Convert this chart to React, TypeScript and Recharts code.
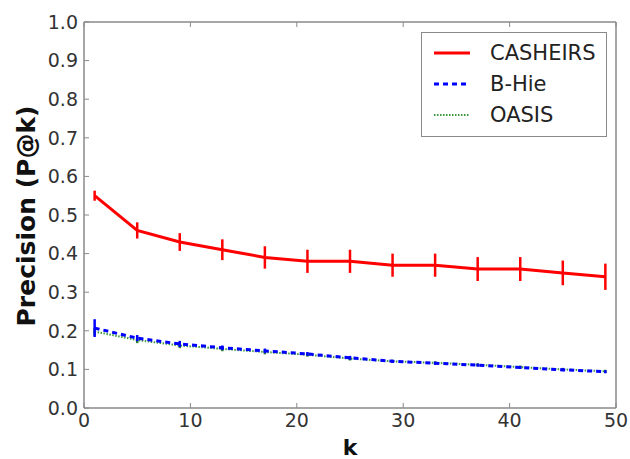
import React from 'react';
import { LineChart, Line, XAxis, YAxis, ErrorBar, Legend } from 'recharts';

const kValues = [1, 5, 9, 13, 17, 21, 25, 29, 33, 37, 41, 45, 49];
const casheirs = [0.55, 0.46, 0.43, 0.41, 0.39, 0.38, 0.38, 0.37, 0.37, 0.36, 0.36, 0.35, 0.34];
const casheirsErr = [0.013, 0.021, 0.023, 0.027, 0.029, 0.03, 0.03, 0.03, 0.03, 0.031, 0.031, 0.032, 0.034];
const bhie = [0.207, 0.181, 0.166, 0.156, 0.148, 0.14, 0.13, 0.121, 0.116, 0.111, 0.105, 0.099, 0.094];
const bhieErr = [0.023, 0.008, 0.008, 0.006, 0.006, 0.005, 0.005, 0.004, 0.004, 0.004, 0.004, 0.004, 0.004];
const oasis = [0.198, 0.176, 0.162, 0.153, 0.145, 0.138, 0.128, 0.121, 0.117, 0.112, 0.106, 0.1, 0.095];
const oasisErr = [0.01, 0.008, 0.007, 0.006, 0.006, 0.005, 0.005, 0.004, 0.004, 0.004, 0.004, 0.004, 0.004];
const xTicks = [0, 10, 20, 30, 40, 50];
const yTicks = [0, 0.1, 0.2, 0.3, 0.4, 0.5, 0.6, 0.7, 0.8, 0.9, 1.0];

const seriesInfo = [
  { name: 'CASHEIRS', color: '#ff0000', dash: undefined as string | undefined, width: 3 },
  { name: 'B-Hie', color: '#0000ff', dash: '5 4', width: 3 },
  { name: 'OASIS', color: '#3a9a3a', dash: '1.5 1.5', width: 2 },
];

const data = kValues.map((k, i) => ({
  k,
  casheirs: casheirs[i],
  casheirsErr: casheirsErr[i],
  bhie: bhie[i],
  bhieErr: bhieErr[i],
  oasis: oasis[i],
  oasisErr: oasisErr[i],
}));

const FONT = 'DejaVu Sans, sans-serif';
const AXIS = '#8a8a8a';
const tickStyle = { fontSize: 19, fill: '#333', fontFamily: FONT };

const LegendBox = () => (
  <div
    style={{
      border: '1.5px solid #8a8a8a',
      background: '#fff',
      width: 186,
      boxSizing: 'border-box',
      padding: '4px 0 6px 0',
      fontFamily: FONT,
    }}
  >
    {seriesInfo.map((s) => (
      <div key={s.name} style={{ display: 'flex', alignItems: 'center', height: 31 }}>
        <svg width={68} height={20} style={{ flex: 'none' }}>
          <line
            x1={12}
            x2={48}
            y1={10}
            y2={10}
            stroke={s.color}
            strokeWidth={s.width}
            strokeDasharray={s.dash}
          />
        </svg>
        <span style={{ fontSize: 21, color: '#222' }}>{s.name}</span>
      </div>
    ))}
  </div>
);

export default function App() {
  return (
    <div style={{ position: 'absolute', left: 0, top: 0, width: 630, height: 459, background: '#fff' }}>
      <LineChart
        width={630}
        height={459}
        data={data}
        margin={{ top: 17, right: 9, left: 24, bottom: 1 }}
      >
        <XAxis
          xAxisId="b"
          dataKey="k"
          type="number"
          domain={[0, 50]}
          ticks={xTicks}
          height={50}
          tickSize={-5}
          tickMargin={11}
          tick={tickStyle}
          axisLine={{ stroke: AXIS, strokeWidth: 1.5 }}
          tickLine={{ stroke: AXIS }}
          label={{
            content: (props: any) => {
              const vb = props.viewBox || {};
              return (
                <text
                  x={vb.x + vb.width / 2}
                  y={vb.y + 47}
                  textAnchor="middle"
                  fontSize={22}
                  fontWeight="bold"
                  fontFamily={FONT}
                  fill="#111"
                >
                  k
                </text>
              );
            },
          }}
        />
        <XAxis
          xAxisId="t"
          orientation="top"
          dataKey="k"
          type="number"
          domain={[0, 50]}
          ticks={xTicks}
          height={5}
          tickSize={-5}
          tickFormatter={() => ''}
          axisLine={{ stroke: AXIS, strokeWidth: 1.5 }}
          tickLine={{ stroke: AXIS }}
        />
        <YAxis
          yAxisId="l"
          type="number"
          domain={[0, 1]}
          ticks={yTicks}
          width={60}
          tickSize={-5}
          tickMargin={11}
          tick={tickStyle}
          tickFormatter={(v: number) => v.toFixed(1)}
          axisLine={{ stroke: AXIS, strokeWidth: 1.5 }}
          tickLine={{ stroke: AXIS }}
          label={{
            content: (props: any) => {
              const vb = props.viewBox || {};
              const x = vb.x + 11;
              const y = vb.y + vb.height / 2 + 1;
              return (
                <text
                  x={x}
                  y={y}
                  transform={`rotate(-90, ${x}, ${y})`}
                  textAnchor="middle"
                  fontSize={25}
                  fontWeight="bold"
                  fontFamily={FONT}
                  fill="#111"
                >
                  Precision (P@k)
                </text>
              );
            },
          }}
        />
        <YAxis
          yAxisId="r"
          orientation="right"
          type="number"
          domain={[0, 1]}
          ticks={yTicks}
          width={5}
          tickSize={-5}
          tickFormatter={() => ''}
          axisLine={{ stroke: AXIS, strokeWidth: 1.5 }}
          tickLine={{ stroke: AXIS }}
        />
        <Legend
          layout="vertical"
          align="center"
          verticalAlign="middle"
          content={<LegendBox />}
          wrapperStyle={{ position: 'absolute', top: 32, left: 421, width: 186 }}
        />
        <Line
          xAxisId="b"
          yAxisId="l"
          dataKey="oasis"
          name="OASIS"
          stroke="#3a9a3a"
          strokeWidth={2}
          strokeDasharray="1.5 1.5"
          dot={false}
          isAnimationActive={false}
        >
          <ErrorBar dataKey="oasisErr" width={0} stroke="#2a8a2a" strokeWidth={2.5} />
        </Line>
        <Line
          xAxisId="b"
          yAxisId="l"
          dataKey="bhie"
          name="B-Hie"
          stroke="#0000ff"
          strokeWidth={3}
          strokeDasharray="5 4"
          dot={false}
          isAnimationActive={false}
        >
          <ErrorBar dataKey="bhieErr" width={0} stroke="#0000ff" strokeWidth={2.5} />
        </Line>
        <Line
          xAxisId="b"
          yAxisId="l"
          dataKey="casheirs"
          name="CASHEIRS"
          stroke="#ff0000"
          strokeWidth={3}
          dot={false}
          isAnimationActive={false}
        >
          <ErrorBar dataKey="casheirsErr" width={0} stroke="#ff0000" strokeWidth={2.5} />
        </Line>
      </LineChart>
    </div>
  );
}
